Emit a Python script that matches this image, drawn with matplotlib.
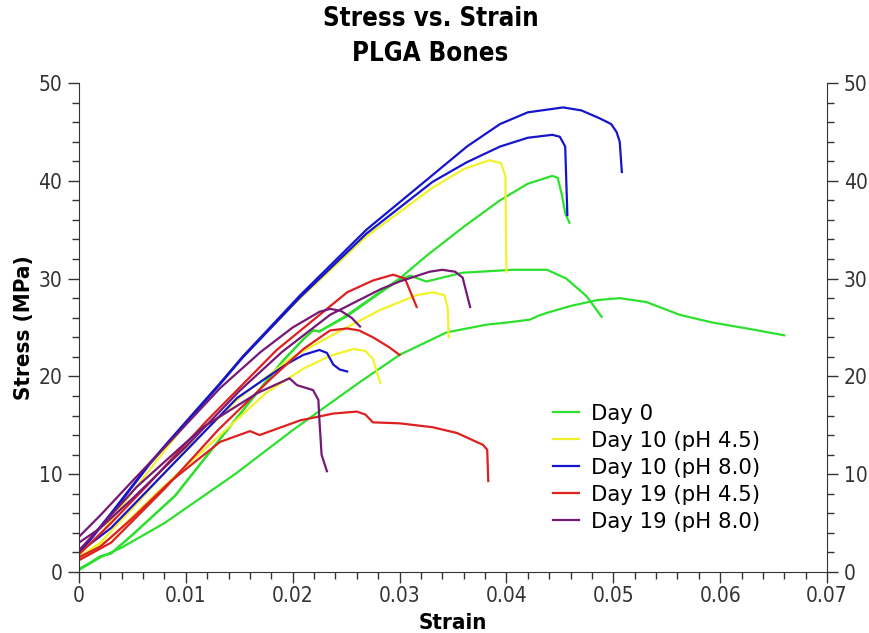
import numpy as np
import matplotlib.pyplot as plt
from matplotlib.ticker import MultipleLocator

# stress-strain curves for each group (strain, stress in MPa)
day0_a_strain = [0, 0.001, 0.002, 0.003, 0.005, 0.009, 0.0148, 0.019, 0.021, 0.0219, 0.0225, 0.025, 0.028, 0.030,
                 0.0326, 0.036, 0.0394, 0.042, 0.0443, 0.0448, 0.0452, 0.0455, 0.0459]
day0_a_stress = [0.3, 0.9, 1.6, 1.9, 3.8, 7.8, 15.8, 21.5, 23.8, 24.7, 24.6, 26.2, 28.5, 30.0,
                 32.4, 35.3, 38.0, 39.7, 40.5, 40.3, 38.5, 36.7, 35.7]
day0_b_strain = [0, 0.001, 0.002, 0.003, 0.005, 0.009, 0.0148, 0.019, 0.021, 0.0219, 0.0225, 0.025, 0.028, 0.030,
                 0.031, 0.0325, 0.0359, 0.0406, 0.0438, 0.0456, 0.0475, 0.0489]
day0_b_stress = [0.3, 0.9, 1.6, 1.9, 3.8, 7.8, 15.8, 21.5, 23.8, 24.7, 24.6, 26.1, 28.4, 29.9,
                 30.3, 29.7, 30.6, 30.9, 30.9, 30.0, 28.2, 26.1]
day0_c_strain = [0, 0.002, 0.004, 0.008, 0.0146, 0.020, 0.026, 0.030, 0.0344, 0.0382, 0.040, 0.0422, 0.043,
                 0.0438, 0.046, 0.0485, 0.0506, 0.0531, 0.0562, 0.0593, 0.0625, 0.066]
day0_c_stress = [0.2, 1.5, 2.5, 5.0, 10.0, 14.5, 19.2, 22.2, 24.5, 25.3, 25.5, 25.8, 26.2,
                 26.5, 27.2, 27.8, 28.0, 27.6, 26.3, 25.5, 24.9, 24.2]

d10a_1_strain = [0, 0.002, 0.005, 0.010, 0.0157, 0.0207, 0.0269, 0.0331, 0.036, 0.0384, 0.0395, 0.0399, 0.0400]
d10a_1_stress = [1.8, 3.8, 8.2, 15.2, 22.5, 28.0, 34.3, 39.3, 41.2, 42.1, 41.8, 40.5, 30.7]
d10a_2_strain = [0, 0.002, 0.005, 0.010, 0.015, 0.020, 0.0235, 0.0282, 0.0316, 0.0331, 0.0342, 0.0345, 0.0346]
d10a_2_stress = [1.5, 3.0, 6.5, 12.5, 17.8, 22.0, 24.1, 26.8, 28.3, 28.6, 28.3, 27.0, 24.0]
d10a_3_strain = [0, 0.003, 0.007, 0.0132, 0.0175, 0.021, 0.0235, 0.0257, 0.0268, 0.0275, 0.0282]
d10a_3_stress = [1.3, 3.5, 7.8, 14.0, 18.3, 20.8, 22.1, 22.8, 22.6, 21.8, 19.3]

d10b_1_strain = [0, 0.001, 0.003, 0.0066, 0.0085, 0.0132, 0.0153, 0.0207, 0.0269, 0.0331, 0.0363, 0.0394,
                 0.042, 0.0453, 0.047, 0.0487, 0.0498, 0.0503, 0.0506, 0.0508]
d10b_1_stress = [2.2, 3.3, 6.0, 11.1, 13.5, 19.3, 22.0, 28.3, 35.0, 40.6, 43.5, 45.8,
                 47.0, 47.5, 47.2, 46.4, 45.8, 45.0, 44.0, 40.9]
d10b_2_strain = [0, 0.001, 0.003, 0.0066, 0.0085, 0.0132, 0.0153, 0.0207, 0.0269, 0.0331, 0.0363, 0.0394,
                 0.042, 0.0443, 0.045, 0.0455, 0.0457]
d10b_2_stress = [2.1, 3.2, 5.9, 11.0, 13.4, 19.2, 21.9, 28.1, 34.6, 39.9, 41.9, 43.5,
                 44.4, 44.7, 44.5, 43.5, 36.5]
d10b_3_strain = [0, 0.003, 0.007, 0.011, 0.0148, 0.018, 0.0195, 0.021, 0.0225, 0.0232, 0.0238, 0.0244, 0.0251]
d10b_3_stress = [2.0, 4.5, 9.0, 13.5, 17.8, 20.2, 21.3, 22.2, 22.7, 22.4, 21.2, 20.7, 20.5]

d19a_1_strain = [0, 0.003, 0.0066, 0.012, 0.0185, 0.0251, 0.0275, 0.0294, 0.0305, 0.0316]
d19a_1_stress = [1.8, 5.0, 9.1, 15.5, 22.7, 28.6, 29.8, 30.4, 30.0, 27.1]
d19a_2_strain = [0, 0.003, 0.008, 0.013, 0.018, 0.021, 0.0235, 0.0251, 0.0262, 0.0275, 0.029, 0.030]
d19a_2_stress = [1.2, 3.0, 8.5, 14.5, 19.8, 22.8, 24.7, 24.9, 24.7, 24.0, 23.0, 22.2]
d19a_3_strain = [0, 0.002, 0.005, 0.0085, 0.0132, 0.016, 0.0169, 0.0207, 0.0238, 0.026, 0.0268, 0.0275,
                 0.030, 0.0331, 0.0354, 0.0378, 0.0382, 0.0383]
d19a_3_stress = [1.5, 2.6, 5.5, 9.2, 13.3, 14.4, 14.0, 15.5, 16.2, 16.4, 16.1, 15.3,
                 15.2, 14.8, 14.2, 13.0, 12.5, 9.3]

d19b_1_strain = [0, 0.002, 0.005, 0.010, 0.015, 0.019, 0.0235, 0.0282, 0.030, 0.0328, 0.034, 0.0352, 0.0359, 0.0366]
d19b_1_stress = [3.0, 4.5, 7.5, 12.8, 18.5, 22.5, 26.3, 28.9, 29.7, 30.7, 30.9, 30.7, 30.1, 27.1]
d19b_2_strain = [0, 0.002, 0.005, 0.0085, 0.0132, 0.017, 0.020, 0.0225, 0.0235, 0.0245, 0.0255, 0.0263]
d19b_2_stress = [3.6, 5.8, 9.3, 13.3, 18.8, 22.5, 25.0, 26.6, 26.9, 26.7, 26.0, 25.1]
d19b_3_strain = [0, 0.0054, 0.0116, 0.0167, 0.0197, 0.0204, 0.0219, 0.0224, 0.0225, 0.0227, 0.0232]
d19b_3_stress = [2.2, 8.7, 14.8, 18.3, 19.8, 19.1, 18.6, 17.6, 15.5, 12.0, 10.3]

groups = ['Day 0', 'Day 10 (pH 4.5)', 'Day 10 (pH 8.0)', 'Day 19 (pH 4.5)', 'Day 19 (pH 8.0)']
colors = ['#2ee02e', '#f2f22a', '#1515cc', '#dd2020', '#761876']
curves = [
    [(day0_a_strain, day0_a_stress), (day0_b_strain, day0_b_stress), (day0_c_strain, day0_c_stress)],
    [(d10a_1_strain, d10a_1_stress), (d10a_2_strain, d10a_2_stress), (d10a_3_strain, d10a_3_stress)],
    [(d10b_1_strain, d10b_1_stress), (d10b_2_strain, d10b_2_stress), (d10b_3_strain, d10b_3_stress)],
    [(d19a_1_strain, d19a_1_stress), (d19a_2_strain, d19a_2_stress), (d19a_3_strain, d19a_3_stress)],
    [(d19b_1_strain, d19b_1_stress), (d19b_2_strain, d19b_2_stress), (d19b_3_strain, d19b_3_stress)],
]

fig = plt.figure(figsize=(8.7, 6.33), dpi=100)
ax = fig.add_axes([0.0908, 0.0964, 0.8598, 0.7725])

for label, color, group in zip(groups, colors, curves):
    for i, (x, y) in enumerate(group):
        ax.plot(x, y, color=color, lw=1.6, label=label if i == 0 else None)

ax.set_xlim(0, 0.07)
ax.set_ylim(0, 50)
ax.xaxis.set_minor_locator(MultipleLocator(0.002))
ax.yaxis.set_major_locator(MultipleLocator(10))
ax.yaxis.set_minor_locator(MultipleLocator(2))
ax.set_xticks(np.arange(0, 0.071, 0.01))
ax.set_xticklabels(['0', '0.01', '0.02', '0.03', '0.04', '0.05', '0.06', '0.07'])

ax.spines['top'].set_visible(False)
for s in ['left', 'right', 'bottom']:
    ax.spines[s].set_color('#333333')
ax.tick_params(axis='both', which='major', direction='out', length=8, width=1, color='#333333',
               labelsize=15, labelcolor='#333333', pad=4)
ax.tick_params(axis='both', which='minor', direction='out', length=5, width=1, color='#333333')
ax.tick_params(axis='y', which='both', right=True, labelright=True)
ax.tick_params(axis='x', which='major', pad=2)
for t in ax.get_xticklabels() + ax.get_yticklabels():
    t.set_fontstretch('condensed')
for tick in ax.yaxis.get_major_ticks():
    tick.label2.set_fontstretch('condensed')

ax.set_xlabel('Strain', fontsize=16, fontweight='bold', fontstretch='condensed', labelpad=5)
ax.set_ylabel('Stress (MPa)', fontsize=16, fontweight='bold', fontstretch='condensed', labelpad=3)
fig.text(0.495, 0.99, 'Stress vs. Strain\nPLGA Bones', ha='center', va='top', fontsize=18.5,
         fontweight='bold', fontstretch='condensed', linespacing=1.45)

ax.legend(loc='upper left', bbox_to_anchor=(0.636, 0.362), bbox_transform=fig.transFigure,
          frameon=False, fontsize=15.3, borderpad=0, borderaxespad=0,
          handlelength=1.2, handletextpad=0.55, labelspacing=0.33)

fig.savefig('out.png', dpi=100)
